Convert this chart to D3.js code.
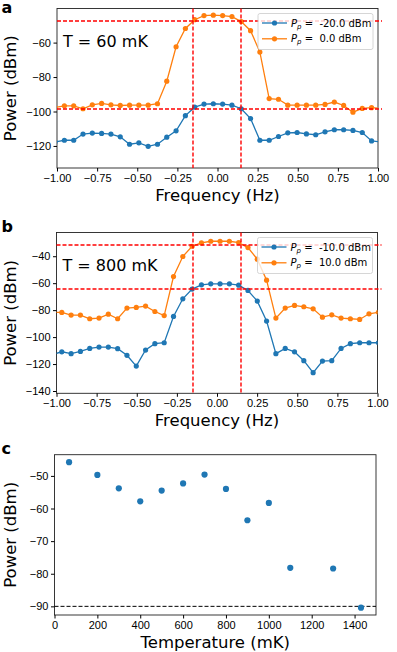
<!DOCTYPE html>
<html>
<head>
<meta charset="utf-8">
<script src="https://cdn.jsdelivr.net/npm/d3@7"></script>
<style>
  body { margin: 0; background: #fff; }
  svg { display: block; font-family: "DejaVu Sans", sans-serif; }
  .tick text { font-size: 11px; fill: #000; }
  .tick line { stroke: #000; }
  .domain { display: none; }
</style>
</head>
<body>
<div id="chart"></div>
<script>
// panel a: T = 60 mK
const freqA = [-1.012, -0.954, -0.896, -0.838, -0.780, -0.722, -0.664, -0.606, -0.548, -0.490, -0.432, -0.374,
  -0.316, -0.258, -0.200, -0.142, -0.084, -0.026, 0.032, 0.090, 0.148, 0.206, 0.264, 0.322,
  0.380, 0.438, 0.496, 0.554, 0.612, 0.670, 0.728, 0.786, 0.844, 0.902, 0.960, 1.018];
const lowA = [-117.7, -116.7, -116.7, -113.1, -112.5, -112.7, -113.1, -114.7, -119.0, -118.2, -120.2, -119.0,
  -114.9, -111.2, -102.4, -97.5, -95.7, -95.5, -95.7, -96.3, -98.4, -104.1, -116.7, -116.7,
  -114.5, -112.4, -112.2, -113.0, -113.5, -111.8, -110.6, -110.6, -111.0, -112.2, -117.1, -117.7];
const highA = [-97.7, -96.7, -96.7, -98.4, -96.1, -95.3, -96.1, -96.5, -96.3, -96.3, -96.3, -95.5,
  -82.4, -62.4, -51.8, -46.7, -44.3, -44.1, -44.3, -44.9, -47.8, -53.1, -65.5, -92.5,
  -92.9, -96.3, -96.3, -96.3, -96.3, -95.9, -94.5, -96.5, -100.4, -98.2, -97.8, -98.1];
const pumpA = ["-20.0", "0.0"];
const cutA = [-48, -98];

// panel b: T = 800 mK
const freqB = [-1.025, -0.967, -0.909, -0.851, -0.793, -0.735, -0.677, -0.619, -0.561, -0.503, -0.445, -0.387,
  -0.329, -0.271, -0.213, -0.155, -0.097, -0.039, 0.019, 0.077, 0.135, 0.193, 0.251, 0.309,
  0.367, 0.425, 0.483, 0.541, 0.599, 0.657, 0.715, 0.773, 0.831, 0.889, 0.947, 1.005];
const lowB = [-112.9, -110.9, -112.3, -110.6, -108.4, -107.4, -107.4, -108.6, -113.5, -121.5, -109.6, -104.9,
  -104.2, -84.7, -71.6, -64.4, -61.2, -60.5, -60.5, -60.5, -61.5, -65.4, -73.3, -88.1,
  -112.3, -108.4, -110.9, -117.5, -126.4, -117.8, -117.5, -108.4, -104.9, -104.2, -104.2, -104.2];
const highB = [-81.7, -81.7, -83.7, -83.7, -86.4, -85.9, -83.0, -86.4, -78.5, -78.0, -77.0, -81.0,
  -84.0, -55.1, -40.2, -32.6, -30.1, -28.9, -28.9, -28.9, -29.9, -33.6, -42.2, -57.8,
  -85.9, -78.5, -76.5, -77.5, -79.0, -85.2, -83.5, -85.9, -86.4, -86.9, -82.7, -81.6];
const pumpB = ["-10.0", "10.0"];
const cutB = [-32, -64];

const bandEdges = [-0.15, 0.15];
const freqTicks = [-1, -0.75, -0.5, -0.25, 0, 0.25, 0.5, 0.75, 1];

// panel c: peak power vs temperature
const temps = [68, 200, 300, 400, 500, 600, 700, 800, 900, 1000, 1100, 1300, 1430];
const peakPower = [-45.8, -49.7, -53.8, -57.8, -54.5, -52.3, -49.6, -54.0, -63.6, -58.3, -78.2, -78.4, -90.4];
const floorLevel = -90;

const BLUE = `#1f77b4`;
const ORANGE = `#ff7f0e`;

// thin red guides keep their colour better when they sit on a 2px pair
const snap = (v) => 2 * Math.round((v - 1) / 2) + 1;

const svg = d3.select(`#chart`).append(`svg`)
  .attr(`width`, 397)
  .attr(`height`, 652);

const drawFrame = (g, box, label, xlabel, pid) => {
  g.append(`rect`)
    .attr(`x`, box.l).attr(`y`, box.t)
    .attr(`width`, box.r - box.l).attr(`height`, box.b - box.t)
    .attr(`fill`, `none`).attr(`stroke`, `#222`).attr(`stroke-width`, 0.9);

  g.append(`clipPath`).attr(`id`, `clip-${pid}`)
    .append(`rect`)
    .attr(`x`, box.l).attr(`y`, box.t)
    .attr(`width`, box.r - box.l).attr(`height`, box.b - box.t);

  g.append(`text`)
    .attr(`x`, 1.5).attr(`y`, label.y)
    .attr(`font-size`, 16).attr(`font-weight`, `bold`)
    .text(label.text);

  g.append(`text`)
    .attr(`x`, (box.l + box.r) / 2).attr(`y`, box.b + 33)
    .attr(`text-anchor`, `middle`).attr(`font-size`, 16.5)
    .text(xlabel);

  g.append(`text`)
    .attr(`transform`, `translate(16,${(box.t + box.b) / 2}) rotate(-90)`)
    .attr(`text-anchor`, `middle`).attr(`font-size`, 16.5)
    .text(`Power (dBm)`);
};

const drawAxes = (g, x, y, box, xTicks, xFmt, yTicks) => {
  g.append(`g`)
    .attr(`transform`, `translate(0,${box.b})`)
    .call(d3.axisBottom(x).tickValues(xTicks).tickFormat(d3.format(xFmt)).tickSize(3.5).tickPadding(2.5));
  g.append(`g`)
    .attr(`transform`, `translate(${box.l},0)`)
    .call(d3.axisLeft(y).tickValues(yTicks).tickFormat(d3.format(`d`)).tickSize(3.5).tickPadding(2.5));
};

const drawSpectrum = (opts) => {
  const { box, freq, low, high, pump, cuts, yDomain, yTicks, temp, label, pid } = opts;
  const g = svg.append(`g`);

  const x = d3.scaleLinear().domain([-1, 1]).range([box.l, box.r]);
  const y = d3.scaleLinear().domain(yDomain).range([box.b, box.t]);

  drawFrame(g, box, label, `Frequency (Hz)`, pid);
  drawAxes(g, x, y, box, freqTicks, `.2f`, yTicks);

  const plot = g.append(`g`).attr(`clip-path`, `url(#clip-${pid})`);
  const line = d3.line().x((d) => x(d[0])).y((d) => y(d[1]));

  [[low, BLUE], [high, ORANGE]].forEach(([vals, color]) => {
    const pts = freq.map((f, i) => [f, vals[i]]);
    plot.append(`path`)
      .attr(`d`, line(pts))
      .attr(`fill`, `none`).attr(`stroke`, color).attr(`stroke-width`, 1.3);
    plot.selectAll(null)
      .data(pts)
      .enter().append(`circle`)
        .attr(`cx`, (d) => x(d[0]))
        .attr(`cy`, (d) => y(d[1]))
        .attr(`r`, 2.6)
        .attr(`fill`, color);
  });

  // -3 dB levels and band edges
  cuts.forEach((c) => {
    g.append(`line`)
      .attr(`x1`, x(-1)).attr(`x2`, x(1.025))
      .attr(`y1`, snap(y(c))).attr(`y2`, snap(y(c)))
      .attr(`stroke`, `#ff0000`).attr(`stroke-width`, 1.4).attr(`stroke-dasharray`, `4,2`);
  });
  bandEdges.forEach((f) => {
    g.append(`line`)
      .attr(`x1`, snap(x(f))).attr(`x2`, snap(x(f)))
      .attr(`y1`, box.t).attr(`y2`, box.b)
      .attr(`stroke`, `#ff0000`).attr(`stroke-width`, 1.4).attr(`stroke-dasharray`, `4,2`);
  });

  g.append(`text`)
    .attr(`x`, box.l + 6).attr(`y`, box.t + 38)
    .attr(`font-size`, 16)
    .text(temp);

  // legend
  const lg = g.append(`g`).attr(`transform`, `translate(${box.r - 120},${box.t + 5})`);
  lg.append(`rect`)
    .attr(`width`, 115).attr(`height`, 36).attr(`rx`, 2)
    .attr(`fill`, `#fff`).attr(`fill-opacity`, 0.8)
    .attr(`stroke`, `#ccc`).attr(`stroke-width`, 0.8);
  [BLUE, ORANGE].forEach((color, i) => {
    const ry = 9.5 + i * 15.8;
    lg.append(`line`)
      .attr(`x1`, 4).attr(`x2`, 29).attr(`y1`, ry).attr(`y2`, ry)
      .attr(`stroke`, color).attr(`stroke-width`, 1.3);
    lg.append(`circle`).attr(`cx`, 16.5).attr(`cy`, ry).attr(`r`, 2.6).attr(`fill`, color);
    const t = lg.append(`text`)
      .attr(`x`, 33).attr(`y`, ry + 3.6)
      .attr(`font-size`, 10)
      .attr(`xml:space`, `preserve`);
    t.append(`tspan`).attr(`font-style`, `italic`).text(`P`);
    t.append(`tspan`).attr(`font-style`, `italic`).attr(`font-size`, 7).attr(`dy`, 2).text(`p`);
    t.append(`tspan`).attr(`dy`, -2).text(` =  ${pump[i]} dBm`);
  });
};

drawSpectrum({
  box: { l: 57, r: 378, t: 8.5, b: 168 },
  freq: freqA, low: lowA, high: highA, pump: pumpA, cuts: cutA,
  yDomain: [-132.8, -40.2], yTicks: [-60, -80, -100, -120],
  temp: `T = 60 mK`, label: { text: `a`, y: 13 }, pid: `a`
});

drawSpectrum({
  box: { l: 56.5, r: 377.5, t: 232.5, b: 393.3 },
  freq: freqB, low: lowB, high: highB, pump: pumpB, cuts: cutB,
  yDomain: [-141.7, -22.4], yTicks: [-40, -60, -80, -100, -120, -140],
  temp: `T = 800 mK`, label: { text: `b`, y: 231.5 }, pid: `b`
});

// panel c
(() => {
  const box = { l: 54.5, r: 376, t: 454.7, b: 615 };
  const g = svg.append(`g`);
  const x = d3.scaleLinear().domain([0, 1500]).range([box.l, box.r]);
  const y = d3.scaleLinear().domain([-92.65, -43.5]).range([box.b, box.t]);

  drawFrame(g, box, { text: `c`, y: 453.5 }, `Temperature (mK)`, `c`);
  drawAxes(g, x, y, box, d3.range(0, 1401, 200), `d`, [-50, -60, -70, -80, -90]);

  g.append(`line`)
    .attr(`x1`, box.l).attr(`x2`, box.r)
    .attr(`y1`, y(floorLevel)).attr(`y2`, y(floorLevel))
    .attr(`stroke`, `#000`).attr(`stroke-width`, 1).attr(`stroke-dasharray`, `4,2`);

  g.append(`g`).attr(`clip-path`, `url(#clip-c)`)
    .selectAll(`circle`)
    .data(temps.map((t, i) => [t, peakPower[i]]))
    .enter().append(`circle`)
      .attr(`cx`, (d) => x(d[0]))
      .attr(`cy`, (d) => y(d[1]))
      .attr(`r`, 3.1)
      .attr(`fill`, BLUE);
})();
</script>
</body>
</html>
